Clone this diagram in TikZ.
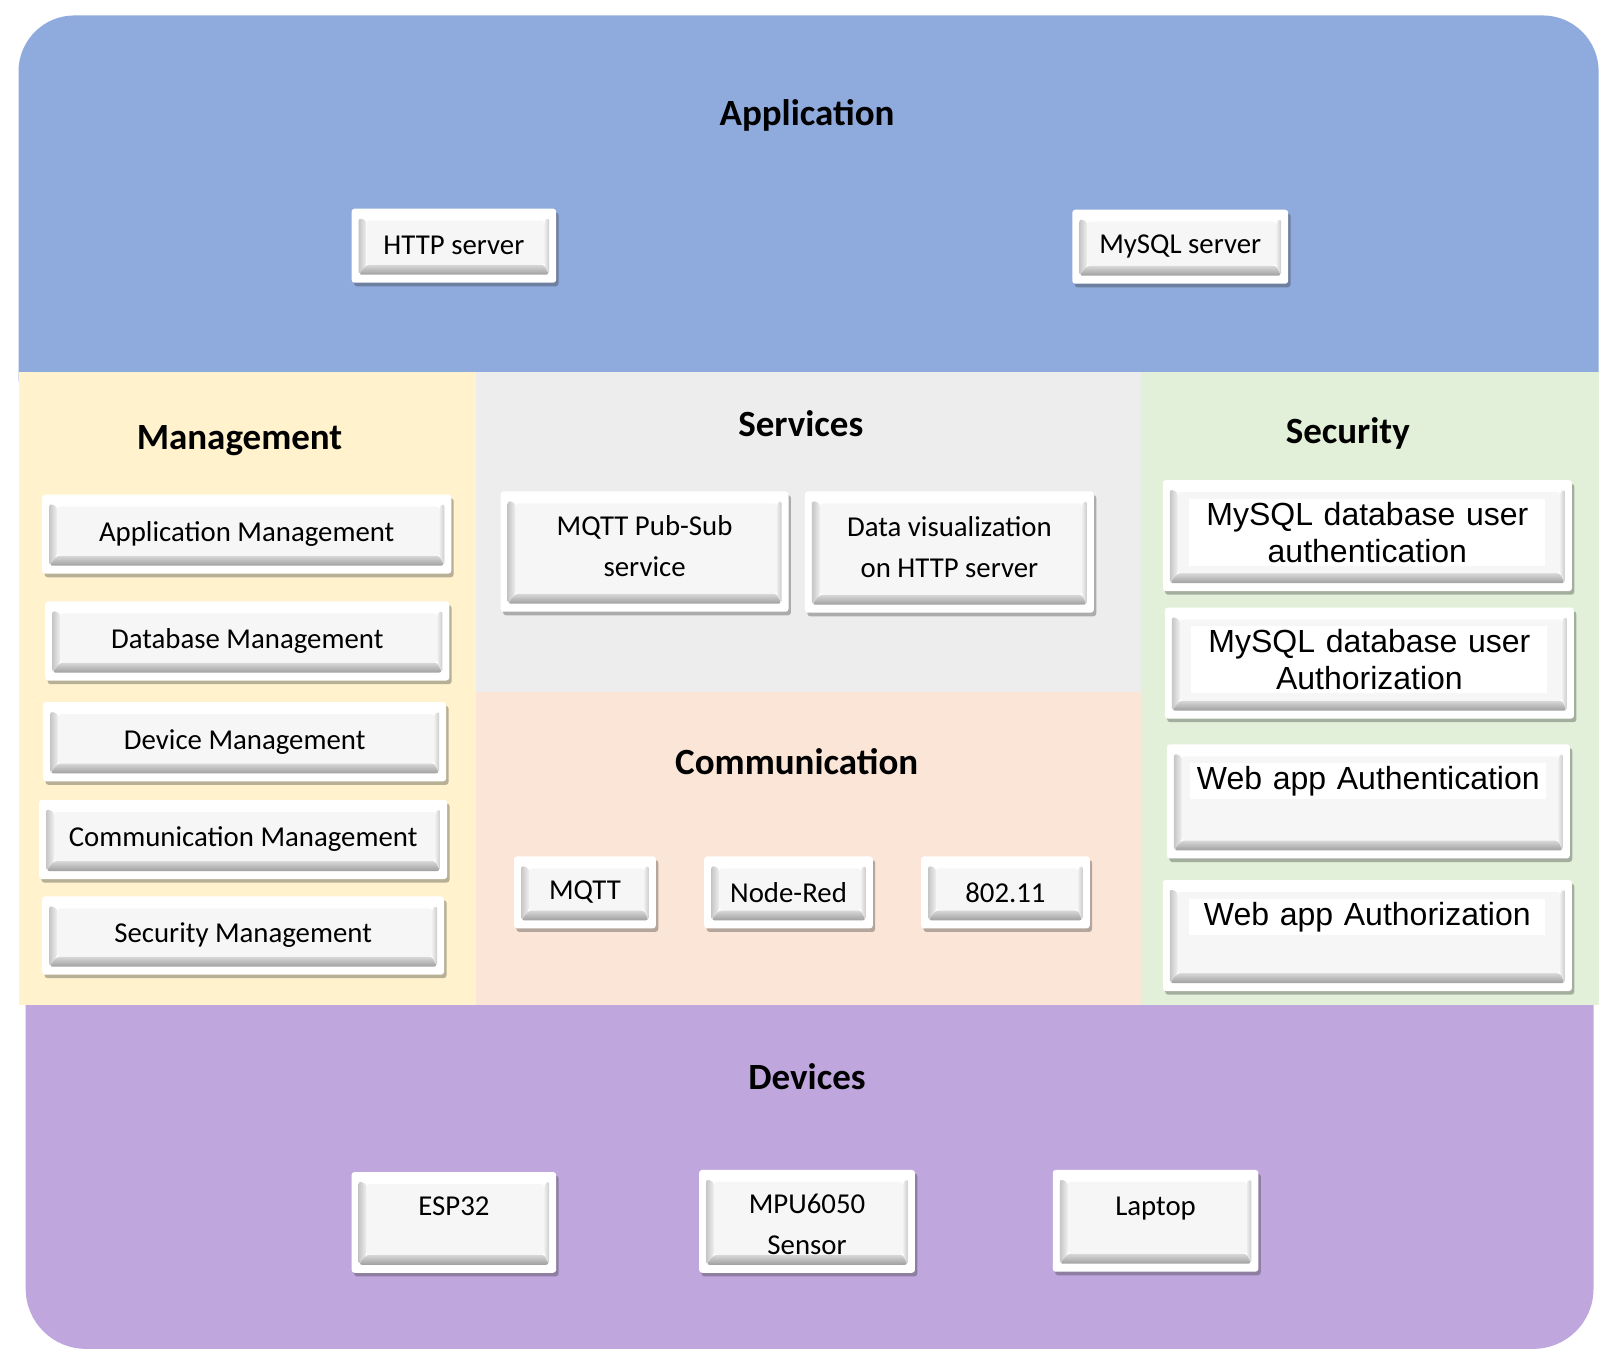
\documentclass[tikz,border=0pt]{standalone}
\usepackage{fontspec}
\setmainfont{Carlito}
\newfontfamily\arialfont{Liberation Sans}
\usetikzlibrary{shadows,calc}
\definecolor{appblue}{RGB}{143,170,220}
\definecolor{mgmtyellow}{RGB}{255,242,204}
\definecolor{servgray}{RGB}{237,237,237}
\definecolor{commpeach}{RGB}{251,229,214}
\definecolor{secgreen}{RGB}{226,240,217}
\definecolor{devpurple}{RGB}{191,167,222}
\definecolor{keyface}{RGB}{246,246,246}
\newcommand\keybevel{%
  \coordinate (kbl) at ($(path picture bounding box.south west)+(3.5pt,4pt)$);
  \coordinate (ktr) at ($(path picture bounding box.north east)+(-3.5pt,-4.5pt)$);
  \coordinate (kfbl) at ($(kbl)+(4pt,5pt)$);
  \coordinate (kftr) at ($(ktr)+(-2.5pt,-1.5pt)$);
  \fill[white] (kbl) rectangle (ktr);
  \shade[left color=gray!45, right color=gray!12] (kbl) -- (kfbl) -- (kfbl|-kftr) -- (kbl|-ktr) -- cycle;
  \shade[top color=gray!30, bottom color=gray!75] (kbl) -- (ktr|-kbl) -- (kftr|-kfbl) -- (kfbl) -- cycle;
  \shade[left color=gray!12, right color=gray!40] (ktr|-kbl) -- (ktr) -- (kftr) -- (kftr|-kfbl) -- cycle;
  \fill[keyface] (kfbl) rectangle (kftr);
}

\begin{document}
\begin{tikzpicture}[x=0.514pt, y=-0.514pt,
    head/.style = {font=\fontsize{18.5}{22}\selectfont\bfseries},
    kdim/.style 2 args = {minimum width=#1*0.514pt, minimum height=#2*0.514pt},
    keybox/.style = {fill=white, rounded corners=1.5pt, inner sep=0pt, align=center,
        font=\fontsize{14.4}{20.5}\selectfont,
        drop shadow={shadow xshift=1.2pt, shadow yshift=-1.8pt, opacity=0.35, fill=black!80},
        path picture={\keybevel}},
    toptext/.style = {text height=9.3pt, text depth=#1},
    twoline/.style 2 args = {text height=#1, text depth=#2},
    band/.style = {fill=white, inner xsep=0pt, inner ysep=1.5pt, text width=178pt, align=center,
        font=\arialfont\fontsize{16}{18.5}\selectfont}]
    \path[use as bounding box, fill=white] (0,0) rectangle (1568,1323);

    % layers
    \fill[appblue, rounded corners=28pt] (18,15) rectangle (1555,420);
    \fill[devpurple, rounded corners=30pt] (25,900) rectangle (1550,1312);
    \fill[mgmtyellow] (18,362) rectangle (463,978);
    \fill[servgray] (463,362) rectangle (1110,673);
    \fill[commpeach] (463,673) rectangle (1110,978);
    \fill[secgreen] (1110,362) rectangle (1555,978);

    \node[head] (app) at (785,112) {Application};
    \node[head] (mgmt) at (233,429) {Management};
    \node[head] (serv) at (779,412) {Services};
    \node[head] (sec) at (1311,422) {Security};
    \node[head] (comm) at (775,741) {Communication};
    \node[head] (dev) at (785,1047) {Devices};

    \node[keybox, kdim={199}{72}] (http) at (441.5,239) {HTTP server};
    \node[keybox, kdim={210}{72}] (mysql) at (1148,240) {MySQL server};

    \node[keybox, kdim={398}{77}] (am) at (240,519.5) {Application Management};
    \node[keybox, kdim={393}{77}] (dm) at (240.5,623.5) {Database Management};
    \node[keybox, kdim={392}{77}] (vm) at (238,721.5) {Device Management};
    \node[keybox, kdim={397}{77}] (cm) at (236.5,816.5) {Communication Management};
    \node[keybox, kdim={391}{76}] (sm) at (236.5,910) {Security Management};

    \node[keybox, kdim={280}{117}, twoline={30.5pt}{5.2pt}] (pubsub) at (627,536.5) {MQTT Pub-Sub\\service};
    \node[keybox, kdim={281}{118}, twoline={30.5pt}{5.2pt}] (vis) at (923.5,537) {Data visualization\\on HTTP server};

    \node[keybox, kdim={138}{70}] (mqtt) at (569,868) {MQTT};
    \node[keybox, kdim={164}{70}] (nred) at (767,868) {Node-Red};
    \node[keybox, kdim={164}{70}] (wifi) at (978,868) {802.11};

    \node[keybox, kdim={398}{108}] (sa1) at (1330,521) {};
    \node[band] (sa1t) at (1330,518) {MySQL database user\\authentication};
    \node[keybox, kdim={398}{108}] (sa2) at (1332,645) {};
    \node[band] (sa2t) at (1332,641.5) {MySQL database user\\Authorization};
    \node[keybox, kdim={392}{111}] (wa1) at (1331,779.5) {};
    \node[band] (wa1t) at (1331,760) {Web app Authentication};
    \node[keybox, kdim={398}{108}] (wa2) at (1330,910) {};
    \node[band] (wa2t) at (1330,892) {Web app Authorization};

    \node[keybox, kdim={199}{98}, toptext=16pt] (esp) at (441.5,1189) {ESP32};
    \node[keybox, kdim={210}{100}, twoline={33.5pt}{0pt}] (mpu) at (785,1188) {MPU6050\\Sensor};
    \node[keybox, kdim={200}{99}, toptext=15pt] (lap) at (1124,1187.5) {Laptop};
\end{tikzpicture}
\end{document}
